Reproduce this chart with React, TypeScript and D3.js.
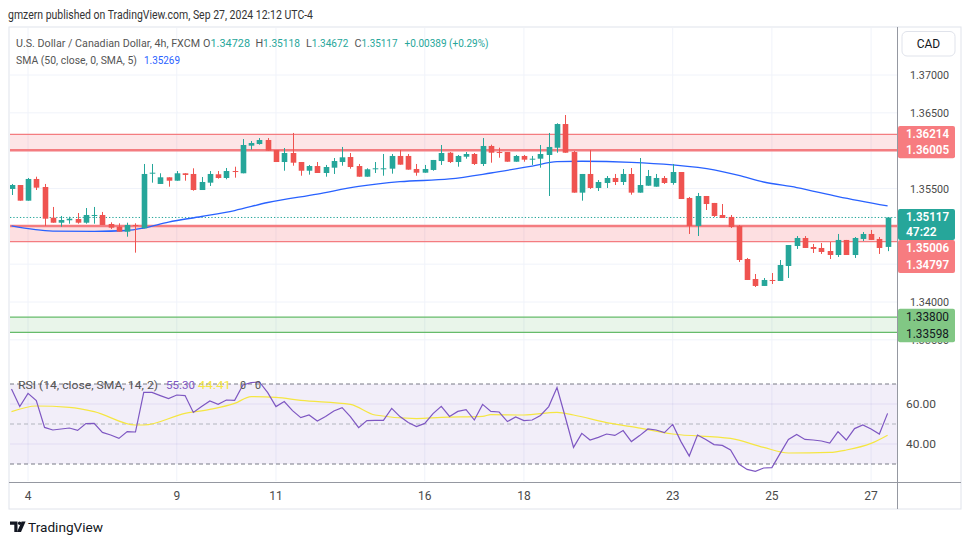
import React from "react";
import * as d3 from "d3";

// ---------- DATA ----------
const opens = [1.35494,1.35546,1.35339,1.35626,1.3552,1.35114,1.35048,1.3508,1.35097,1.35048,1.35141,1.3515,1.35031,1.34995,1.34929,1.35018,1.34974,1.35701,1.3556,1.35648,1.35603,1.35701,1.35692,1.3548,1.35577,1.35688,1.35639,1.35731,1.35701,1.36066,1.36088,1.36141,1.36009,1.3585,1.35969,1.3585,1.35735,1.35797,1.35705,1.35775,1.3585,1.35916,1.35797,1.35656,1.35762,1.35762,1.35762,1.3593,1.3593,1.35758,1.35709,1.35745,1.35863,1.35973,1.3585,1.3592,1.35956,1.35824,1.36062,1.35982,1.35982,1.35854,1.3593,1.3589,1.35894,1.35943,1.36039,1.36352,1.35982,1.35445,1.35692,1.35507,1.35573,1.35639,1.35586,1.35692,1.35445,1.35537,1.35524,1.35639,1.35573,1.35718,1.35375,1.35005,1.35401,1.35309,1.3515,1.35124,1.35005,1.34568,1.34304,1.34212,1.34291,1.34278,1.34476,1.3474,1.34846,1.34727,1.34714,1.34674,1.34621,1.3482,1.34621,1.34833,1.34899,1.34833,1.34728];
const highs = [1.3556,1.35546,1.35639,1.35656,1.3556,1.35256,1.35137,1.35127,1.35176,1.35242,1.35256,1.3519,1.35053,1.3504,1.35048,1.3504,1.35824,1.35824,1.35701,1.35648,1.35731,1.35701,1.35767,1.35652,1.35731,1.35731,1.35771,1.35788,1.36154,1.36128,1.36167,1.36167,1.36009,1.36035,1.36234,1.3585,1.35811,1.3585,1.35811,1.35903,1.36049,1.35969,1.35824,1.35767,1.3585,1.35956,1.35956,1.36009,1.35956,1.35824,1.35811,1.35877,1.36075,1.35982,1.35943,1.35982,1.35969,1.36167,1.36079,1.36039,1.35982,1.35943,1.35943,1.3593,1.36075,1.36234,1.36362,1.36471,1.35996,1.35692,1.36009,1.35612,1.35665,1.35692,1.35758,1.35771,1.35903,1.35745,1.35692,1.35665,1.35824,1.35718,1.35388,1.35441,1.35401,1.35309,1.35295,1.3515,1.35018,1.34582,1.3437,1.34317,1.34383,1.34555,1.34753,1.34872,1.34872,1.34767,1.3478,1.34793,1.34899,1.3482,1.34859,1.34925,1.34952,1.34859,1.35118];
const lows = [1.35414,1.35339,1.35339,1.3548,1.35005,1.35048,1.34995,1.35035,1.35035,1.35035,1.35035,1.35018,1.34965,1.34929,1.34863,1.34652,1.34974,1.35577,1.3556,1.35524,1.35603,1.35603,1.35471,1.3548,1.35533,1.3563,1.35622,1.35643,1.35701,1.36013,1.36079,1.36,1.3585,1.35735,1.35801,1.35669,1.35683,1.35705,1.35656,1.35692,1.35801,1.35762,1.35656,1.35656,1.35705,1.35669,1.35696,1.35815,1.35749,1.35669,1.35709,1.35735,1.35811,1.35837,1.35788,1.35894,1.35811,1.35797,1.35841,1.35907,1.35854,1.35854,1.35854,1.35811,1.35775,1.35401,1.35973,1.35973,1.35445,1.35339,1.35494,1.35467,1.35507,1.35546,1.35546,1.35418,1.35445,1.35537,1.35524,1.3556,1.3555,1.35361,1.34899,1.34872,1.35216,1.35124,1.3511,1.34978,1.34529,1.34291,1.34198,1.34212,1.34238,1.34278,1.34317,1.34701,1.34714,1.34648,1.34635,1.34568,1.34595,1.34621,1.34582,1.34806,1.3482,1.34635,1.34672];
const closes = [1.35546,1.35339,1.35626,1.35511,1.35101,1.35048,1.35084,1.35101,1.35048,1.3515,1.3515,1.35018,1.34982,1.34929,1.35018,1.35005,1.35692,1.35709,1.35648,1.35603,1.35701,1.35679,1.3548,1.35586,1.35692,1.35639,1.35731,1.35718,1.36075,1.36101,1.36141,1.36,1.3585,1.35969,1.35841,1.35735,1.35797,1.35705,1.35784,1.35863,1.35912,1.35784,1.35656,1.35754,1.35767,1.35767,1.3593,1.35815,1.35749,1.35709,1.35758,1.35877,1.35969,1.3585,1.3593,1.35956,1.35824,1.36062,1.35973,1.35973,1.35854,1.3593,1.35881,1.35894,1.35956,1.36049,1.36352,1.35973,1.35445,1.35692,1.35507,1.35586,1.35639,1.35586,1.35692,1.35445,1.35546,1.35665,1.35639,1.35573,1.35718,1.35361,1.35005,1.35401,1.35295,1.35137,1.3511,1.34991,1.34555,1.34291,1.34212,1.34291,1.34282,1.34489,1.34753,1.34846,1.34714,1.34701,1.34661,1.34621,1.3482,1.34621,1.34846,1.34899,1.3482,1.34714,1.35117];

const smaIdx = [0,5,10,14,16,19,23,27,31,37,42,47,53,58,63,66,69,75,80,85,88,91,95,100,106];
const smaVals = [1.35005,1.34938,1.34934,1.34945,1.34978,1.35057,1.3513,1.35209,1.35315,1.35427,1.35527,1.3559,1.35626,1.35705,1.35797,1.35854,1.3586,1.35846,1.35811,1.35745,1.35672,1.35586,1.35513,1.35394,1.35269];

const rsiVals = [67.5,58.7,65.3,61.7,48.3,47,47.5,48,46.8,50.2,50.3,45.8,44.5,42.8,46.2,46,65.8,65.8,64.2,62.7,64.5,64.2,55.8,58.7,61.5,59.8,62,61.8,69.5,70.7,71,65.7,58.7,61.2,56.7,53.2,54.5,51.5,53.7,56.5,58.2,53.7,48.2,51.7,51.8,51.8,57.8,53.7,50.7,48.7,50.3,55.2,58.8,53.8,56.3,57.2,52,59.8,56.3,56,51.2,53.5,51.7,52,54.3,58.7,68.2,53.5,38.3,45.3,42,43.3,45,44.3,46.7,41.2,44.2,47.5,47,45.7,49.8,41.2,34,44.5,42.3,39.7,39.3,37,30,27.3,26.3,28,28.2,35.3,42.3,44.8,42.3,42,41.5,40.5,46.2,42,47.7,49.5,47.5,45,55.3];
const rsiMaIdx = [0,3,7,10,15,16,21,24,27,29,32,35,41,44,49,52,57,58,62,66,68,72,75,80,87,91,94,99,101,104,106];
const rsiMaVals = [56.2,59,58.3,56.2,49.5,49.5,55.3,57.3,60.3,63.7,63.3,61.8,59.8,54.5,52.7,53.3,53.8,54.7,54.5,55.8,54.5,50.7,48.7,45,42.8,38.3,35.5,35.8,37,40.3,44.41];

const dateIdx = [2, 20, 32, 50, 62, 80, 92, 104];
const dateLabels = ["4", "9", "11", "16", "18", "23", "25", "27"];
const priceTicks = [1.37, 1.365, 1.36, 1.355, 1.35, 1.345, 1.34, 1.335];
const rsiTicks = [60, 40];
const rsiBands = [70, 50, 30];
const upperZone = [1.36214, 1.36005];
const middleZone = [1.35006, 1.34797];
const lowerZone = [1.338, 1.33598];
const lastPrice = 1.35117;
const countdown = "47:22";
const changeText = "+0.00389 (+0.29%)";

const UP = "#26a69a";
const DOWN = "#ef5350";
const FONT = "Roboto, 'Noto Sans', sans-serif";

export default function App() {
  const paneL = 10, paneR = 897, mainT = 28, mainB = 370, rsiB = 481;
  const x = d3.scaleLinear().domain([0, 106]).range([11.5, 887.6]);
  const y = d3.scaleLinear().domain([1.34, 1.37]).range([302, 75]);
  const yr = d3.scaleLinear().domain([30, 70]).range([464, 384]);
  const bw = 5.6;

  const smaPath = d3.line<number>().x((_, k) => x(smaIdx[k])).y((d) => y(d)).curve(d3.curveMonotoneX)(smaVals) || "";
  const rsiPath = d3.line<number>().x((_, i) => x(i)).y((d) => yr(d))(rsiVals) || "";
  const rsiMaPath = d3.line<number>().x((_, k) => x(rsiMaIdx[k])).y((d) => yr(d)).curve(d3.curveMonotoneX)(rsiMaVals) || "";

  const fmt = (v: number) => v.toFixed(5);

  const zone = (z: number[], fill: string, stroke: string, thickTop: boolean, thickBottom: boolean, key: string) => (
    <g key={key}>
      <rect x={paneL} width={paneR - paneL} y={y(z[0])} height={y(z[1]) - y(z[0])} fill={fill} />
      <line x1={paneL} x2={paneR} y1={y(z[0])} y2={y(z[0])} stroke={stroke} strokeWidth={thickTop ? 2.5 : 1.2} />
      <line x1={paneL} x2={paneR} y1={y(z[1])} y2={y(z[1])} stroke={stroke} strokeWidth={thickBottom ? 2.5 : 1.2} />
    </g>
  );

  const lx = 906;
  const boxUpper = [y(upperZone[0]) - 8.5, y(upperZone[1]) + 8];
  const boxLast = [y(lastPrice) - 8.5, y(lastPrice) + 22.5];
  const boxMid = [y(lastPrice) + 22.5, y(lastPrice) + 55.5];
  const boxLow = [y(lowerZone[0]) - 8.5, y(lowerZone[0]) + 25];
  const covered = (v: number) =>
    [boxUpper, boxLast, boxMid].some((b) => y(v) > b[0] - 2 && y(v) < b[1] + 2);
  const visibleTicks = priceTicks.filter((t) => !covered(t));

  // legend layout: letter x, value x, value width
  const ohlc = [
    { k: "O", v: opens[106], lx: 203, vx: 210.5, w: 39.5 },
    { k: "H", v: highs[106], lx: 255.5, vx: 263, w: 37 },
    { k: "L", v: lows[106], lx: 306, vx: 311.8, w: 36.5 },
    { k: "C", v: closes[106], lx: 354.5, vx: 361.5, w: 36 },
  ];
  const LF = 10.8;

  return (
    <svg width={970} height={545} style={{ position: "absolute", left: 0, top: 0, background: "#fff" }} fontFamily={FONT}>
      <defs>
        <clipPath id="mainClip"><rect x={paneL} y={mainT} width={paneR - paneL} height={mainB - mainT} /></clipPath>
        <clipPath id="rsiClip"><rect x={paneL} y={mainB + 1} width={paneR - paneL} height={rsiB - mainB - 1} /></clipPath>
        <clipPath id="axisClip"><rect x={898} y={mainT} width={62} height={mainB - mainT} /></clipPath>
      </defs>
      <rect x={0} y={0} width={970} height={545} fill="#fff" />

      {/* header */}
      <text x={8} y={19} fontSize={12} fill="#333" textLength={305} lengthAdjust="spacingAndGlyphs">gmzern published on TradingView.com, Sep 27, 2024 12:12 UTC-4</text>

      {/* frame */}
      <rect x={9} y={27} width={952} height={482} fill="none" stroke="#e0e3eb" />

      {/* grid */}
      {priceTicks.map((t) => (
        <line key={"pg" + t} x1={paneL} x2={paneR} y1={y(t)} y2={y(t)} stroke="#f0f3fa" />
      ))}
      {dateIdx.map((d) => (
        <line key={"vg" + d} x1={x(d)} x2={x(d)} y1={mainT} y2={rsiB} stroke="#f0f3fa" />
      ))}

      <g clipPath="url(#mainClip)">
        {zone(upperZone, "rgba(242,54,69,0.13)", "#f47c80", false, true, "uz")}
        {zone(middleZone, "rgba(242,54,69,0.16)", "#f47c80", true, false, "mz")}
        {zone(lowerZone, "rgba(76,175,80,0.12)", "#66bb6a", false, false, "lz")}

        <line x1={paneL} x2={paneR} y1={y(lastPrice)} y2={y(lastPrice)} stroke={UP} strokeWidth={1} strokeDasharray="1.3 2" />

        <path d={smaPath} fill="none" stroke="#2962ff" strokeWidth={1.3} />

        {opens.map((o, i) => {
          const c = closes[i];
          const col = c >= o ? UP : DOWN;
          const top = y(Math.max(o, c));
          const bot = y(Math.min(o, c));
          const cx = Math.round(x(i)) + 0.5;
          return (
            <g key={"c" + i}>
              <line x1={cx} x2={cx} y1={y(highs[i])} y2={y(lows[i])} stroke={col} strokeWidth={1} />
              <rect x={cx - bw / 2} width={bw} y={top} height={Math.max(1, bot - top)} fill={col} />
            </g>
          );
        })}
      </g>

      {/* legend main */}
      <g fontSize={LF}>
        <text x={16} y={46.5} fill="#555" textLength={184} lengthAdjust="spacingAndGlyphs">U.S. Dollar / Canadian Dollar, 4h, FXCM</text>
        {ohlc.map((d) => (
          <g key={"l" + d.k}>
            <text x={d.lx} y={46.5} fill="#555">{d.k}</text>
            <text x={d.vx} y={46.5} fill={UP} textLength={d.w} lengthAdjust="spacingAndGlyphs">{fmt(d.v)}</text>
          </g>
        ))}
        <text x={404.5} y={46.5} fill={UP} textLength={84} lengthAdjust="spacingAndGlyphs">{changeText}</text>
        <text x={16} y={63.5} fill="#555" textLength={121} lengthAdjust="spacingAndGlyphs">SMA (50, close, 0, SMA, 5)</text>
        <text x={144} y={63.5} fill="#2962ff" textLength={36} lengthAdjust="spacingAndGlyphs">{fmt(smaVals[smaVals.length - 1])}</text>
      </g>

      {/* RSI pane */}
      <rect x={paneL} width={paneR - paneL} y={yr(70)} height={yr(30) - yr(70)} fill="rgba(126,87,194,0.1)" />
      {rsiTicks.map((t) => (
        <line key={"rg" + t} x1={paneL} x2={paneR} y1={yr(t)} y2={yr(t)} stroke="rgba(126,87,194,0.12)" />
      ))}
      {rsiBands.map((b) => (
        <line key={"rb" + b} x1={paneL} x2={paneR} y1={yr(b)} y2={yr(b)} stroke={b === 50 ? "#b2b5be" : "#787b86"} strokeWidth={1} strokeDasharray="4 3" />
      ))}
      <g clipPath="url(#rsiClip)">
        <path d={rsiMaPath} fill="none" stroke="#f5e642" strokeWidth={1.2} />
        <path d={rsiPath} fill="none" stroke="#7e57c2" strokeWidth={1.2} />
      </g>
      <g fontSize={LF}>
        <text x={18} y={389} fill="#555" textLength={140} lengthAdjust="spacingAndGlyphs">RSI (14, close, SMA, 14, 2)</text>
        <text x={166} y={389} fill="#7e57c2" textLength={29} lengthAdjust="spacingAndGlyphs">{rsiVals[rsiVals.length - 1].toFixed(2)}</text>
        <text x={198} y={389} fill="#f5e642" textLength={33} lengthAdjust="spacingAndGlyphs">{rsiMaVals[rsiMaVals.length - 1].toFixed(2)}</text>
        <text x={240} y={389} fill="#555">0</text>
        <text x={255} y={389} fill="#555">0</text>
      </g>

      {/* price axis */}
      <line x1={897.5} x2={897.5} y1={27} y2={509} stroke="#9598a1" />
      <rect x={902} y={31.5} width={53} height={24.5} rx={5} fill="#fff" stroke="#e0e3eb" />
      <text x={928.5} y={48} fontSize={12} fill="#131722" textAnchor="middle">CAD</text>
      <g fontSize={11.5} fill="#4a4a4a" clipPath="url(#axisClip)">
        {visibleTicks.map((t) => (
          <text key={"pt" + t} x={910} y={y(t) + 4} textLength={39} lengthAdjust="spacingAndGlyphs">{fmt(t)}</text>
        ))}
      </g>
      <g fontSize={11.5} fill="#4a4a4a">
        {rsiTicks.map((t) => (
          <text key={"rt" + t} x={906} y={yr(t) + 4} textLength={30} lengthAdjust="spacingAndGlyphs">{t.toFixed(2)}</text>
        ))}
      </g>

      {/* price labels */}
      <g fontSize={12} fontWeight={600}>
        <rect x={898} y={boxUpper[0]} width={57} height={boxUpper[1] - boxUpper[0]} rx={2} fill="#f77c80" />
        <text x={lx} y={y(upperZone[0]) + 4} fill="#fff" textLength={43} lengthAdjust="spacingAndGlyphs">{fmt(upperZone[0])}</text>
        <text x={lx} y={y(upperZone[1]) + 4} fill="#fff" textLength={43} lengthAdjust="spacingAndGlyphs">{fmt(upperZone[1])}</text>

        <rect x={898} y={boxLast[0]} width={57} height={boxLast[1] - boxLast[0]} rx={2} fill={UP} />
        <text x={lx} y={y(lastPrice) + 4} fill="#fff" textLength={43} lengthAdjust="spacingAndGlyphs">{fmt(lastPrice)}</text>
        <text x={lx} y={y(lastPrice) + 18.5} fill="#fff">{countdown}</text>

        <rect x={898} y={boxMid[0]} width={57} height={boxMid[1] - boxMid[0]} rx={2} fill="#f77c80" />
        <text x={lx} y={boxMid[0] + 12.5} fill="#fff" textLength={43} lengthAdjust="spacingAndGlyphs">{fmt(middleZone[0])}</text>
        <text x={lx} y={boxMid[0] + 29.5} fill="#fff" textLength={43} lengthAdjust="spacingAndGlyphs">{fmt(middleZone[1])}</text>

        <rect x={898} y={boxLow[0]} width={57} height={boxLow[1] - boxLow[0]} rx={2} fill="#81c784" />
        <text x={lx} y={y(lowerZone[0]) + 4} fill="#131722" fontWeight={400} textLength={43} lengthAdjust="spacingAndGlyphs">{fmt(lowerZone[0])}</text>
        <text x={lx} y={y(lowerZone[0]) + 21} fill="#131722" fontWeight={400} textLength={43} lengthAdjust="spacingAndGlyphs">{fmt(lowerZone[1])}</text>
      </g>

      {/* time axis */}
      <line x1={9} x2={961} y1={482.5} y2={482.5} stroke="#9598a1" />
      <g fontSize={12} fill="#4a4a4a" textAnchor="middle">
        {dateIdx.map((d, k) => (
          <text key={"dl" + d} x={x(d)} y={500}>{dateLabels[k]}</text>
        ))}
      </g>

      {/* logo */}
      <g fill="#131722">
        <path d="M10 521.5 h7.5 v10.5 h-3.2 v-7.3 h-4.3 z" />
        <circle cx={19.6} cy={523.2} r={1.7} />
        <path d="M21.6 521.5 h4 l-4.6 10.5 h-4 z" />
      </g>
      <text x={28} y={532} fontSize={13} fill="#131722" textLength={75} lengthAdjust="spacingAndGlyphs">TradingView</text>
    </svg>
  );
}
